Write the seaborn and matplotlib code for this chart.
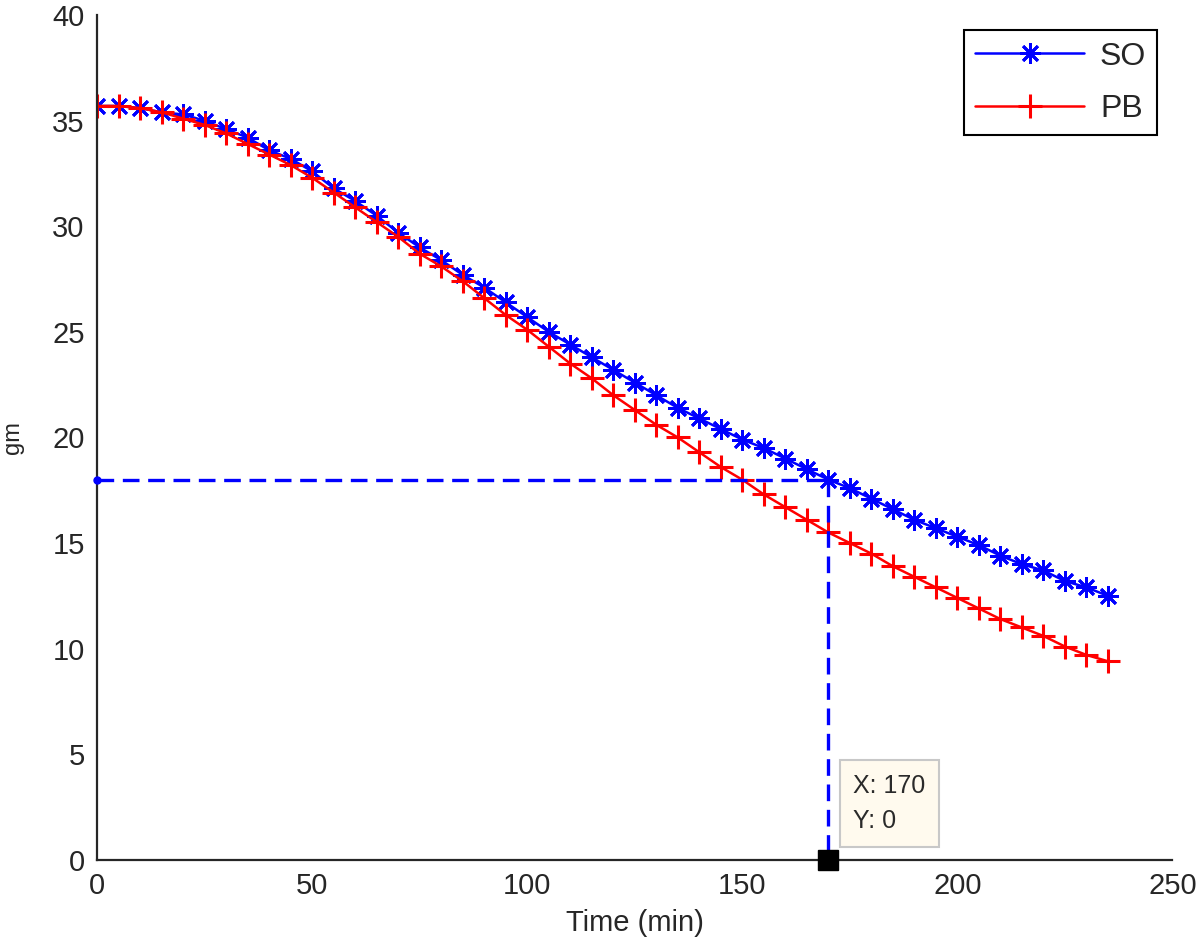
import matplotlib

matplotlib.use("Agg")

import matplotlib.pyplot as plt
import pandas as pd
import seaborn as sns

# Time axis: one sample every 5 minutes
time_min = list(range(0, 240, 5))

so_gm = [
    35.7, 35.7, 35.6, 35.4, 35.3, 35.0, 34.6, 34.2, 33.6, 33.2,
    32.6, 31.8, 31.2, 30.5, 29.7, 29.0, 28.4, 27.7, 27.1, 26.4,
    25.7, 25.0, 24.4, 23.8, 23.2, 22.6, 22.0, 21.4, 20.9, 20.4,
    19.9, 19.5, 19.0, 18.5, 18.0, 17.6, 17.1, 16.6, 16.1, 15.7,
    15.3, 14.9, 14.4, 14.0, 13.7, 13.2, 12.9, 12.5,
]
pb_gm = [
    35.7, 35.7, 35.6, 35.4, 35.1, 34.8, 34.4, 33.9, 33.4, 32.9,
    32.3, 31.6, 30.9, 30.2, 29.5, 28.7, 28.1, 27.4, 26.6, 25.8,
    25.1, 24.3, 23.5, 22.8, 22.0, 21.3, 20.6, 20.0, 19.3, 18.6,
    18.0, 17.3, 16.7, 16.1, 15.5, 15.0, 14.5, 13.9, 13.4, 12.9,
    12.4, 11.9, 11.4, 11.0, 10.6, 10.1, 9.7, 9.4,
]

# Data tip / guide lines
tip_x = 170
tip_y = 18.0
tip_label = "X: 170\nY: 0"

x_ticks = [0, 50, 100, 150, 200, 250]
y_ticks = [0, 5, 10, 15, 20, 25, 30, 35, 40]

df = pd.DataFrame({"time": time_min, "SO": so_gm, "PB": pb_gm})

sns.set_style("white")
plt.rcParams["font.family"] = ["Liberation Sans", "DejaVu Sans"]

fig = plt.figure(figsize=(12, 9.5), dpi=100)
ax = fig.add_axes([0.081, 0.095, 0.896, 0.889])

sns.lineplot(data=df, x="time", y="SO", ax=ax, color="blue", linewidth=1.8,
             marker=(8, 2, 0), markersize=15, markeredgewidth=2.0,
             markeredgecolor="blue", label="SO")
sns.lineplot(data=df, x="time", y="PB", ax=ax, color="red", linewidth=1.8,
             marker="+", markersize=17, markeredgewidth=2.2,
             markeredgecolor="red", label="PB")

# dashed guide lines to the data tip
ax.plot([0, tip_x], [tip_y, tip_y], color="blue", linewidth=2.4, dashes=(5, 2.6),
        zorder=4)
ax.plot([tip_x, tip_x], [tip_y, 0], color="blue", linewidth=2.4, dashes=(5, 2.6),
        zorder=4)
ax.plot([0], [tip_y], marker="o", color="blue", markersize=5, zorder=5,
        clip_on=False)
ax.plot([tip_x], [0], marker="s", color="black", markersize=14, zorder=6,
        clip_on=False)
ax.annotate(tip_label, xy=(tip_x, 0), xytext=(18, 19), textcoords="offset points",
            fontsize=18, color="#2a2a2a", linespacing=1.6,
            ha="left", va="bottom",
            bbox=dict(boxstyle="square,pad=0.55", facecolor="#fffaee",
                      edgecolor="#c8c8c8", linewidth=1.5))

ax.set_xlim(0, 250)
ax.set_ylim(0, 40)
ax.set_xticks(x_ticks)
ax.set_yticks(y_ticks)
ax.tick_params(direction="in", length=8, width=1.5, labelsize=21, pad=9,
               labelcolor="#262626", colors="#262626")
ax.set_xlabel("Time (min)", fontsize=21, color="#262626", labelpad=6)
ax.set_ylabel("gm", fontsize=17, color="#262626", labelpad=20)

for side in ["top", "right"]:
    ax.spines[side].set_visible(False)
for side in ["left", "bottom"]:
    ax.spines[side].set_color("#262626")
    ax.spines[side].set_linewidth(1.6)

leg = ax.legend(loc="upper right", bbox_to_anchor=(0.986, 0.982), borderaxespad=0,
                fontsize=23, handlelength=3.4, handletextpad=0.5, borderpad=0.35,
                labelspacing=0.7, fancybox=False, framealpha=1)
leg.get_frame().set_edgecolor("black")
leg.get_frame().set_linewidth(1.5)

fig.savefig("out.png", dpi=100)
plt.close(fig)
